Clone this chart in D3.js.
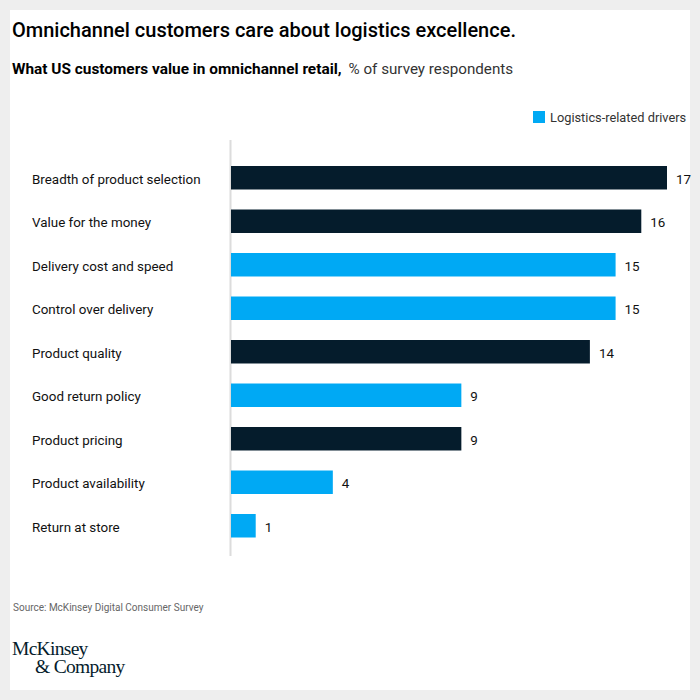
<!DOCTYPE html>
<html><head><meta charset="utf-8">
<script src="https://cdn.jsdelivr.net/npm/d3@7"></script>
<style>
body{margin:0;background:#eeeeee;}
svg{display:block;}
</style></head>
<body>
<svg id="chart" width="700" height="700"></svg>
<script>
const categories = ["Breadth of product selection","Value for the money","Delivery cost and speed","Control over delivery","Product quality","Good return policy","Product pricing","Product availability","Return at store"];
const values = [17,16,15,15,14,9,9,4,1];
const logistics = [false,false,true,true,false,true,false,true,true];
const legendLabels = ["Logistics-related drivers"];

const svg = d3.select("#chart");
const font = "Roboto, 'Liberation Sans', Arial, sans-serif";
svg.append("rect").attr("x",10).attr("y",10).attr("width",680).attr("height",680).attr("fill","#fff");

svg.append("text").attr("x",12).attr("y",37).attr("font-family",font).attr("font-size",20).attr("font-weight",500).attr("fill","#000")
  .text("Omnichannel customers care about logistics excellence.");
const sub = svg.append("text").attr("x",12).attr("y",74).attr("font-family",font);
sub.append("tspan").attr("font-size",15.4).attr("font-weight",700).attr("fill","#000").text("What US customers value in omnichannel retail,");
sub.append("tspan").attr("dx",7).attr("font-size",15.2).attr("font-weight",400).attr("fill","#333").text("% of survey respondents");

// legend
const lg = svg.append("g");
lg.append("rect").attr("x",533).attr("y",111).attr("width",12).attr("height",12).attr("fill","#00a9f4");
lg.append("text").attr("x",550).attr("y",122).attr("font-family",font).attr("font-size",12.8).attr("fill","#333").text(legendLabels[0]);

const x = d3.scaleLinear().domain([0,17]).range([230,667]);
const y = d3.scaleBand().domain(categories).range([166,537.5]).paddingInner(0.46).paddingOuter(0);

svg.append("line").attr("x1",230.5).attr("x2",230.5).attr("y1",140).attr("y2",556).attr("stroke","#dcdcdc").attr("stroke-width",2);

const rows = svg.append("g").selectAll("g").data(categories).join("g");
rows.append("rect")
  .attr("x",x(0)+1).attr("y",d=>y(d)).attr("height",y.bandwidth())
  .attr("width",(d,i)=>x(values[i])-x(0)-1)
  .attr("fill",(d,i)=>logistics[i]?"#00a9f4":"#051c2c");
rows.append("text").attr("x",32).attr("y",d=>y(d)+y.bandwidth()/2+1.5).attr("dy","0.35em")
  .attr("font-family",font).attr("font-size",13.4).attr("fill","#111").text(d=>d);
rows.append("text").attr("x",(d,i)=>x(values[i])+9).attr("y",d=>y(d)+y.bandwidth()/2+1.5).attr("dy","0.35em")
  .attr("font-family",font).attr("font-size",13.4).attr("fill","#111").text((d,i)=>values[i]);

svg.append("text").attr("x",13).attr("y",611).attr("font-family",font).attr("font-size",10).attr("fill","#666")
  .text("Source: McKinsey Digital Consumer Survey");

const logoFont = "'Liberation Serif','DejaVu Serif',Times,serif";
svg.append("text").attr("x",12).attr("y",655).attr("font-family",logoFont).attr("font-size",19.5).attr("fill","#051c2c").attr("letter-spacing",-0.7).text("McKinsey");
svg.append("text").attr("x",35).attr("y",673).attr("font-family",logoFont).attr("font-size",19.5).attr("fill","#051c2c").attr("letter-spacing",-0.7).text("& Company");
</script>
</body></html>
